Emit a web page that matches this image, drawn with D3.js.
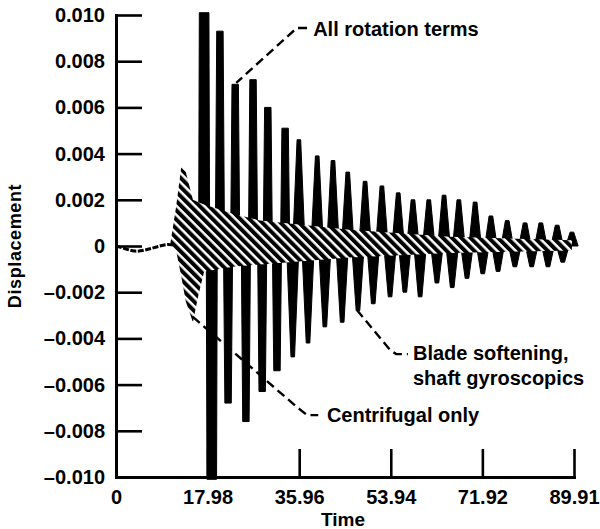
<!DOCTYPE html>
<html>
<head>
<meta charset="utf-8">
<title>Displacement vs Time</title>
<script src="https://d3js.org/d3.v7.min.js"></script>
<style>
  body { margin: 0; background: #fff; }
  text { font-family: "Liberation Sans", Arial, Helvetica, sans-serif; font-weight: bold; fill: #000; }
</style>
</head>
<body>
<div id="chart"></div>
<script>
// axis ticks
const xTicks = [0, 17.98, 35.96, 53.94, 71.92, 89.91];
const yTicks = [0.010, 0.008, 0.006, 0.004, 0.002, 0, -0.002, -0.004, -0.006, -0.008, -0.010];
const yTickLabels = ["0.010", "0.008", "0.006", "0.004", "0.002", "0", "–0.002", "–0.004", "–0.006", "–0.008", "–0.010"];

// small initial wiggle before the excitation
const startTime = [0, 1.6, 3.7, 5.7, 8.0, 10.0, 11.2];
const startDisp = [0, -0.0001, -0.00026, -0.00018, -0.00004, 0.00009, 0.00004];

// Centrifugal only (hatched band): envelope of the fast oscillation
const centTime  = [10.6, 11.8, 12.8, 13.7, 15.1, 16.1, 17.3, 23.0, 28.3, 45.9, 65.6, 89.5];
const centUpper = [0, 0.0017, 0.0034, 0.0032, 0.0020, 0.0019, 0.0018, 0.0014, 0.0011, 0.0007, 0.0004, 0.00025];
const centLower = [0, -0.0002, -0.0013, -0.0024, -0.0033, -0.0022, -0.0011, -0.0009, -0.0008, -0.0005, -0.0003, -0.0002];

// All rotation terms: positive bursts (peak time, peak value)
const allTime = [17.3, 20.4, 23.4, 26.9, 29.8, 33.2, 35.9, 39.5, 42.6, 45.5, 48.9, 52.2,
                 55.4, 58.3, 61.4, 64.4, 67.3, 70.5, 73.6, 76.8, 80.3, 83.4, 86.6, 89.5];
const allPeak = [0.0101, 0.0093, 0.0070, 0.0072, 0.0060, 0.0051, 0.0046, 0.0039, 0.0037, 0.0032, 0.0028, 0.0026,
                 0.0023, 0.0020, 0.0020, 0.0022, 0.0020, 0.0019, 0.0013, 0.0011, 0.0010, 0.0010, 0.0009, 0.0006];

// Blade softening, shaft gyroscopics: negative bursts
const bladeTime = [18.8, 22.0, 25.5, 28.7, 31.6, 34.7, 37.7, 41.0, 44.4, 47.5, 50.5, 53.8,
                   56.7, 59.7, 63.0, 66.0, 68.9, 72.0, 75.0, 78.3, 81.6, 84.8, 87.7];
const bladePeak = [-0.0101, -0.0068, -0.0076, -0.0063, -0.0054, -0.0048, -0.0042, -0.0035, -0.0033, -0.0028, -0.0025, -0.0022,
                   -0.0020, -0.0022, -0.0016, -0.0018, -0.0014, -0.0012, -0.0011, -0.0009, -0.0009, -0.0009, -0.0007];

// annotations: leader points and label anchor, in data units
const annAll   = { text: ["All rotation terms"], at: [38.7, 0.0091],
                   leader: [[37.5, 0.00944], [35.5, 0.00944], [23.6, 0.00706]] };
const annBlade = { text: ["Blade softening,", "shaft gyroscopics"], at: [58.3, -0.00494],
                   leader: [[47.3, -0.00277], [53.8, -0.0045], [55.0, -0.00468], [57.3, -0.00468]] };
const annCent  = { text: ["Centrifugal only"], at: [41.4, -0.00762],
                   leader: [[15.1, -0.00307], [35.5, -0.00697], [37.5, -0.00732], [39.7, -0.00732]] };

const width = 600, height = 529;
const svg = d3.select("#chart").append("svg")
  .attr("width", width).attr("height", height);

const x = d3.scaleLinear().domain([0, 89.91]).range([116, 574]);
const y = d3.scaleLinear().domain([-0.010, 0.010]).range([477, 15]);

// hatch pattern
const defs = svg.append("defs");
const pat = defs.append("pattern")
  .attr("id", "hatch")
  .attr("patternUnits", "userSpaceOnUse")
  .attr("width", 6.5).attr("height", 6.5)
  .attr("patternTransform", "rotate(-45)");
pat.append("rect").attr("width", 6.5).attr("height", 6.5).attr("fill", "#fff");
pat.append("rect").attr("width", 4).attr("height", 6.5).attr("fill", "#000");

// bursts as wedges
const wedge = (t, v, big) => {
  const cx = x(t);
  const early = t < 34;
  const hb = big ? 5.5 : (early ? 4.6 : 6.2);
  const ht = big ? 4.8 : (early ? 3.2 : 1.8);
  return `M${cx - hb},${y(0)}L${cx - ht},${y(v)}L${cx + ht},${y(v)}L${cx + hb},${y(0)}Z`;
};

svg.append("g").selectAll("path")
  .data(allTime.map((t, i) => [t, allPeak[i], i]))
  .join("path")
  .attr("d", d => wedge(d[0], d[1], d[2] === 0))
  .attr("fill", "#000")
  .attr("stroke", "#000").attr("stroke-width", 1);

svg.append("g").selectAll("path")
  .data(bladeTime.map((t, i) => [t, bladePeak[i], i]))
  .join("path")
  .attr("d", d => wedge(d[0], d[1], d[2] === 0))
  .attr("fill", "#000")
  .attr("stroke", "#000").attr("stroke-width", 1);

// centrifugal hatched band
const band = d3.area()
  .x(d => x(d[0])).y0(d => y(d[2])).y1(d => y(d[1]));
svg.append("path")
  .datum(centTime.map((t, i) => [t, centUpper[i], centLower[i]]))
  .attr("d", band)
  .attr("fill", "url(#hatch)");

// initial wiggle
svg.append("path")
  .datum(startTime.map((t, i) => [t, startDisp[i]]))
  .attr("d", d3.line().x(d => x(d[0])).y(d => y(d[1])).curve(d3.curveBasis))
  .attr("fill", "none")
  .attr("stroke", "#000")
  .attr("stroke-width", 3)
  .attr("stroke-dasharray", "6,1.5");

// axes
const yAxis = svg.append("g")
  .attr("transform", `translate(${x(0)},0)`)
  .call(d3.axisLeft(y).tickValues(yTicks).tickSizeInner(-26).tickSizeOuter(0).tickPadding(11)
        .tickFormat((d, i) => yTickLabels[i]));
const xAxis = svg.append("g")
  .attr("transform", `translate(0,${y(-0.010)})`)
  .call(d3.axisBottom(x).tickValues(xTicks).tickSizeInner(-28).tickSizeOuter(0).tickPadding(13)
        .tickFormat(d => d3.format(".2f")(d).replace(/^0\.00$/, "0")));
[xAxis, yAxis].forEach(a => {
  a.select(".domain").attr("stroke-width", 3).attr("stroke-linecap", "square");
  a.selectAll(".tick line").attr("stroke-width", 2.6);
  a.selectAll(".tick text").attr("font-size", 20).attr("font-family", null).attr("fill", "#000");
});
xAxis.selectAll(".tick text").attr("dy", "0.72em");

svg.append("text")
  .attr("transform", `translate(21,${(y(0.010) + y(-0.010)) / 2}) rotate(-90)`)
  .attr("text-anchor", "middle")
  .attr("font-size", 18)
  .attr("letter-spacing", 0.6)
  .text("Displacement");

svg.append("text")
  .attr("x", 343).attr("y", 526)
  .attr("text-anchor", "middle")
  .attr("font-size", 19)
  .text("Time");

// annotations
[annAll, annBlade, annCent].forEach(a => {
  svg.append("path")
    .attr("d", d3.line().x(d => x(d[0])).y(d => y(d[1]))(a.leader))
    .attr("fill", "none")
    .attr("stroke", "#000")
    .attr("stroke-width", 2.4)
    .attr("stroke-dasharray", "9,5");
  const t = svg.append("text")
    .attr("x", x(a.at[0])).attr("y", y(a.at[1]))
    .attr("font-size", 20);
  a.text.forEach((s, i) => t.append("tspan").attr("x", x(a.at[0])).attr("dy", i ? 25 : 0).text(s));
});
</script>
</body>
</html>
